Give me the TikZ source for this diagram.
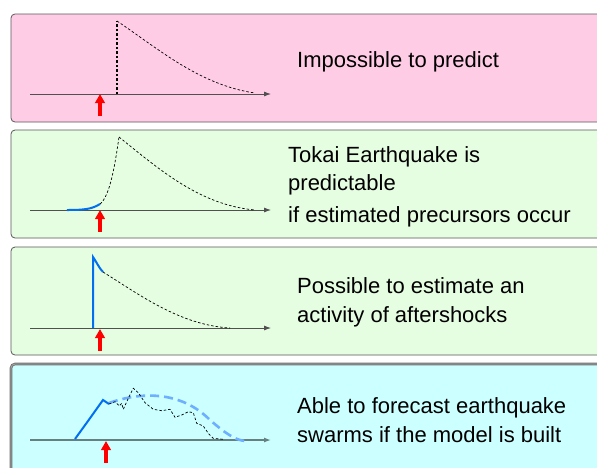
\documentclass[tikz,border=0pt]{standalone}
\usepackage{fontspec}
\setmainfont{Liberation Sans}
\usetikzlibrary{arrows.meta}
\definecolor{pinkbg}{RGB}{255,204,230}
\definecolor{greenbg}{RGB}{229,253,224}
\definecolor{cyanbg}{RGB}{204,255,255}
\definecolor{quakeblue}{RGB}{0,112,240}
\definecolor{modelblue}{RGB}{110,175,255}
\definecolor{axisgray}{RGB}{80,80,80}
\begin{document}
\begin{tikzpicture}[
  x=1pt, y=-1pt,
  panel/.style={draw=black!65, rounded corners=4pt, line width=0.8pt},
  axisline/.style={-{Latex[length=7pt,width=5pt]}, draw=axisgray, line width=0.8pt},
  trigger/.style={-{Triangle[length=9pt,width=9.5pt]}, draw=red, line width=3.6pt},
  future/.style={black, dash pattern=on 2.5pt off 2pt, line width=0.7pt},
  observed/.style={quakeblue, line width=2pt},
  model/.style={modelblue, line width=2.6pt, dash pattern=on 9pt off 5pt},
  msg/.style={anchor=base west, inner sep=0pt, font=\fontsize{22}{26}\selectfont}
]
\clip (0,0) rectangle (597,467);
\fill[white] (0,0) rectangle (597,467);

% Box 1: impossible
\draw[panel, fill=pinkbg] (11,14) rectangle (640,122);
\draw[axisline] (30,94) -- (271,94);
\draw[future, line width=1.1pt] (117,94) -- (117,21);
\draw[future] (117,21) .. controls (160,50) and (200,85) .. (255,93);
\draw[trigger] (100,116) -- (100,94);
\node[msg] (imp) at (297,67) {Impossible to predict};

% Box 2: Tokai
\draw[panel, fill=greenbg] (11,130) rectangle (640,238);
\draw[axisline] (30,210) -- (271,210);
\draw[observed] (67,210) .. controls (85,210) and (92,209) .. (100,204);
\draw[future] (100,204) .. controls (110,196) and (115,165) .. (119,137);
\draw[future] (119,137) .. controls (160,170) and (200,205) .. (255,210);
\draw[trigger] (100,232) -- (100,210);
\node[msg] (tokA) at (288,162) {Tokai Earthquake is};
\node[msg] (tokB) at (288,190) {predictable};
\node[msg] (tokC) at (288,222) {if estimated precursors occur};

% Box 3: aftershocks
\draw[panel, fill=greenbg] (11,247) rectangle (640,355);
\draw[axisline] (30,328) -- (271,328);
\draw[observed] (93,328) -- (93,257) .. controls (96,261) and (99,268) .. (103,272);
\draw[future] (103,272) .. controls (140,295) and (180,325) .. (230,328);
\draw[trigger] (100,351) -- (100,329);
\node[msg] (aftA) at (297,293) {Possible to estimate an};
\node[msg] (aftB) at (297,322) {activity of aftershocks};

% Box 4: swarms
\draw[panel, fill=cyanbg, draw=black!55, line width=2.6pt] (11,364) rectangle (640,480);
\draw[panel, draw=gray!70, line width=0.8pt] (11,364) rectangle (640,480);
\draw[axisline, draw=gray!80!teal, line width=1.3pt] (30,440) -- (271,440);
\draw[model] (109,403) .. controls (140,392) and (180,390) .. (210,420) .. controls (225,433) and (235,440) .. (245,441);
\draw[observed] (75,439) -- (88,421) -- (103,400) -- (109,404);
\draw[future] (109,404) -- (115,401.7) -- (119.3,406) -- (121.7,403.3) -- (123.3,409.3)
  -- (128.3,398.3) -- (133.3,388.3) -- (138.3,392.7) -- (145,402.7) -- (153.3,409.3)
  -- (161.7,410.7) -- (170,409.3) -- (175,417.3) -- (181.7,415) -- (188.3,411.7)
  -- (193.3,412.7) -- (196.7,423.3) -- (203.3,426) -- (208.3,433.3) -- (213.3,438.3)
  -- (223.3,439.3);
\draw[trigger] (106,463) -- (106,441);
\node[msg] (swA) at (297,413) {Able to forecast earthquake};
\node[msg] (swB) at (297,442) {swarms if the model is built};

\end{tikzpicture}
\end{document}
